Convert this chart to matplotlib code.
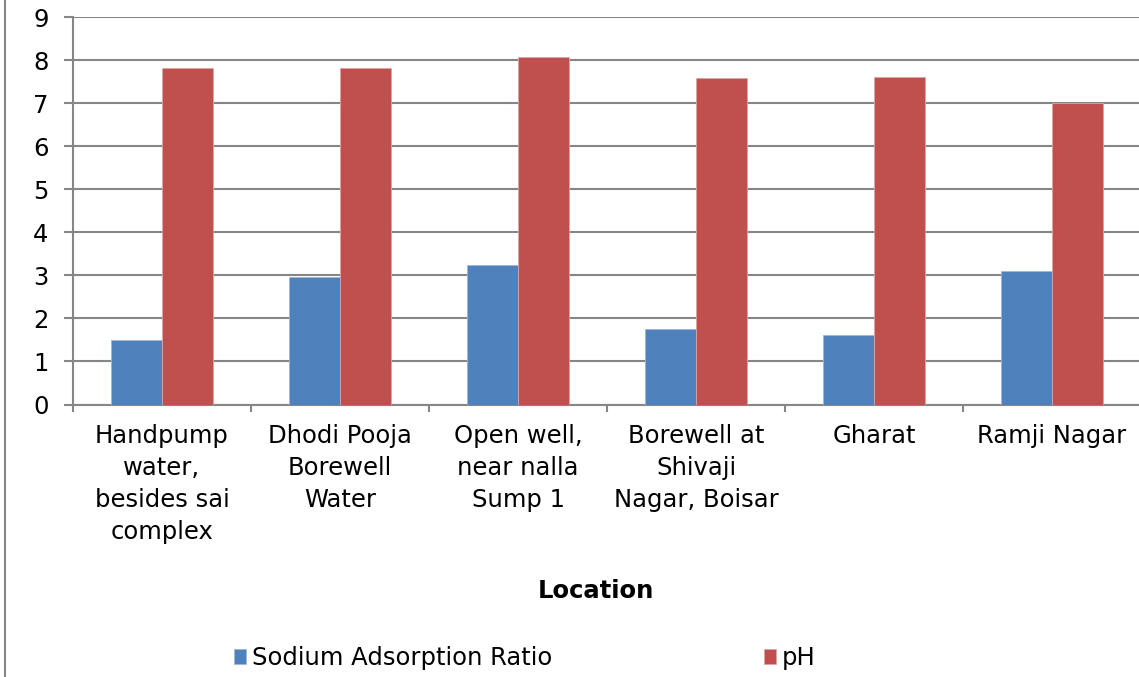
import numpy as np
import matplotlib.pyplot as plt
from matplotlib.lines import Line2D

# data
locations = ['Handpump\nwater,\nbesides sai\ncomplex', 'Dhodi Pooja\nBorewell\nWater',
             'Open well,\nnear nalla\nSump 1', 'Borewell at\nShivaji\nNagar, Boisar',
             'Gharat', 'Ramji Nagar']
sar = [1.51, 2.96, 3.25, 1.75, 1.62, 3.10]
ph = [7.81, 7.83, 8.08, 7.60, 7.62, 7.00]

blue = '#4F81BD'
red = '#C0504D'
grey = '#868686'
fs = 17.5

plt.rcParams['font.family'] = ['DejaVu Sans']

fig = plt.figure(figsize=(11.39, 6.77), dpi=100)
W, H = 1139, 677
ax = fig.add_axes([73 / W, 1 - 404.5 / H, 1068 / W, (404.5 - 17.3) / H])

x = np.arange(len(locations))
bw = 1 / 3.5
ax.bar(x - bw / 2, sar, bw, color=blue, edgecolor='#9fb6d8', linewidth=0.6, label='Sodium Adsorption Ratio', zorder=3)
ax.bar(x + bw / 2, ph, bw, color=red, edgecolor='#dca5a4', linewidth=0.6, label='pH', zorder=3)

ax.set_xlim(-0.5, len(locations) - 0.5)
ax.set_ylim(0, 9)
ax.set_yticks(range(10))
ax.yaxis.grid(True, color=grey, linewidth=1.5, zorder=0)
ax.set_axisbelow(True)

for s in ['top', 'right']:
    ax.spines[s].set_visible(False)
for s in ['left', 'bottom']:
    ax.spines[s].set_color(grey)
    ax.spines[s].set_linewidth(1.5)

ax.tick_params(axis='y', direction='out', length=6.5, width=1.5, color=grey, labelsize=fs, pad=11)
ax.set_xticks(x)
ax.set_xticklabels(locations, fontsize=fs, linespacing=1.42, multialignment='center')
ax.tick_params(axis='x', which='major', length=0, pad=14)
ax.set_xticks(np.arange(-0.5, len(locations)), minor=True)
ax.tick_params(axis='x', which='minor', direction='out', length=5, width=1.5, color=grey)

fig.text(596 / W, 1 - 591 / H, 'Location', fontsize=fs, fontweight='bold', ha='center', va='center')

fig.legend(loc='center left', bbox_to_anchor=(234 / W, 1 - 658 / H), ncol=2, frameon=False,
           fontsize=fs, handlelength=0.5, handleheight=0.55, handletextpad=0.25,
           columnspacing=8.7, borderpad=0, borderaxespad=0)

# chart border on the left edge
fig.add_artist(Line2D([4.5 / W, 4.5 / W], [0, 1], color=grey, linewidth=1.5, transform=fig.transFigure))

fig.savefig('out.png', dpi=100)
